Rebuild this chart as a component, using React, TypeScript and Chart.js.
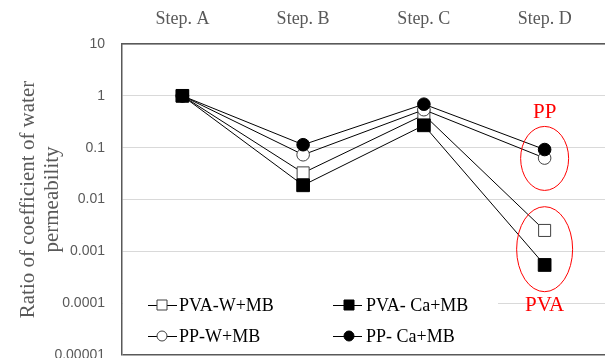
import React, { useEffect, useRef } from "react";
import { Chart, registerables } from "chart.js";

Chart.register(...registerables);

const categories = ["Step. A", "Step. B", "Step. C", "Step. D"];
const pvaW = [1, 0.0326, 0.43, 0.00253];
const pvaCa = [1, 0.0188, 0.27, 0.000546];
const ppW = [1, 0.073, 0.54, 0.063];
const ppCa = [1, 0.114, 0.69, 0.092];
const yTickValues = [0.00001, 0.0001, 0.001, 0.01, 0.1, 1, 10];
const yTickLabels = ["0.00001", "0.0001", "0.001", "0.01", "0.1", "1", "10"];
const yTitleLines = ["Ratio of coefficient of water", "permeability"];
const seriesLabels = ["PVA-W+MB", "PVA- Ca+MB", "PP-W+MB", "PP- Ca+MB"];
const groupLabels = ["PP", "PVA"];
// ellipse centre values at Step. D (data space)
const groupCenters = [0.062, 0.0011];

const SERIF = "'Liberation Serif', 'Times New Roman', serif";
const SANS = "'Liberation Sans', Arial, sans-serif";
const GRAY = "#595959";

const overlayPlugin = {
  id: "overlay",
  afterDatasetsDraw(chart: any) {
    const ctx = chart.ctx;
    const xs = chart.scales.x;
    const ys = chart.scales.y;
    const area = chart.chartArea;
    ctx.save();

    // legend box
    ctx.fillStyle = "#ffffff";
    ctx.fillRect(area.left + 1, 282, 497 - area.left, area.bottom - 283);
    const cols = [{ lx: 148, mx: 162, tx: 179 }, { lx: 333, mx: 349, tx: 366 }];
    const rows = [305, 336];
    const ds = chart.data.datasets;
    ds.forEach((d: any, i: number) => {
      const c = cols[i % 2];
      const y = rows[Math.floor(i / 2)];
      ctx.strokeStyle = "#000";
      ctx.lineWidth = 1;
      ctx.beginPath();
      ctx.moveTo(c.lx, y + 0.5);
      ctx.lineTo(c.lx + 29, y + 0.5);
      ctx.stroke();
      ctx.fillStyle = d.pointBackgroundColor;
      ctx.strokeStyle = d.pointBorderColor;
      ctx.beginPath();
      if (d.pointStyle === "rect") {
        ctx.rect(c.mx - 5, y - 5, 10, 10);
      } else {
        ctx.arc(c.mx, y, 5, 0, Math.PI * 2);
      }
      ctx.fill();
      ctx.stroke();
      ctx.fillStyle = "#000";
      ctx.font = `18px ${SERIF}`;
      ctx.textAlign = "left";
      ctx.textBaseline = "middle";
      ctx.fillText(d.label, c.tx, y + 1);
    });

    // red ellipses and labels at Step. D
    const xD = xs.getPixelForValue(3);
    const ell = [
      { rx: 24, ry: 32 },
      { rx: 28, ry: 42.5 },
    ];
    ctx.strokeStyle = "#ff0000";
    ctx.lineWidth = 1;
    groupCenters.forEach((v, i) => {
      const cy = ys.getPixelForValue(v);
      ctx.beginPath();
      ctx.ellipse(xD, cy, ell[i].rx, ell[i].ry, 0, 0, Math.PI * 2);
      ctx.stroke();
    });
    ctx.fillStyle = "#ff0000";
    ctx.font = `21px ${SERIF}`;
    ctx.textAlign = "center";
    ctx.textBaseline = "middle";
    ctx.fillText(groupLabels[0], xD, 112);
    ctx.fillText(groupLabels[1], xD, 305);

    // y title
    ctx.fillStyle = GRAY;
    ctx.font = `21px ${SERIF}`;
    const cy = (area.top + area.bottom) / 2;
    [28, 52].forEach((x, i) => {
      ctx.save();
      ctx.translate(x, cy);
      ctx.rotate(-Math.PI / 2);
      ctx.textAlign = "center";
      ctx.textBaseline = "middle";
      ctx.fillText(yTitleLines[i], 0, 0);
      ctx.restore();
    });
    ctx.restore();
  },
};

export default function App() {
  const ref = useRef<HTMLCanvasElement>(null);
  useEffect(() => {
    const canvas = ref.current!;
    const chart = new Chart(canvas, {
      type: "line",
      data: {
        labels: categories,
        datasets: [
          {
            label: seriesLabels[0],
            data: pvaW,
            borderColor: "#000",
            borderWidth: 1,
            pointStyle: "rect",
            pointRadius: 8.5,
            pointBackgroundColor: "#ffffff",
            pointBorderColor: "#404040",
            pointBorderWidth: 1,
            tension: 0,
            order: 3,
          },
          {
            label: seriesLabels[1],
            data: pvaCa,
            borderColor: "#000",
            borderWidth: 1,
            pointStyle: "rect",
            pointRadius: 9,
            pointBackgroundColor: "#000000",
            pointBorderColor: "#000000",
            pointBorderWidth: 1,
            tension: 0,
            order: 0,
          },
          {
            label: seriesLabels[2],
            data: ppW,
            borderColor: "#000",
            borderWidth: 1,
            pointStyle: "circle",
            pointRadius: 6.3,
            pointBackgroundColor: "#ffffff",
            pointBorderColor: "#404040",
            pointBorderWidth: 1,
            tension: 0,
            order: 2,
          },
          {
            label: seriesLabels[3],
            data: ppCa,
            borderColor: "#000",
            borderWidth: 1,
            pointStyle: "circle",
            pointRadius: 6.3,
            pointBackgroundColor: "#000000",
            pointBorderColor: "#000000",
            pointBorderWidth: 1,
            tension: 0,
            order: 1,
          },
        ],
      },
      options: {
        animation: false,
        responsive: false,
        layout: { autoPadding: false, padding: { left: 0, right: 0, top: 0, bottom: 3 } },
        plugins: {
          legend: { display: false },
          tooltip: { enabled: false },
        },
        scales: {
          x: {
            position: "top",
            offset: true,
            grid: { display: false, drawTicks: false },
            border: { display: true, color: GRAY, width: 1.5 },
            ticks: {
              color: GRAY,
              font: { family: SERIF, size: 18 },
              padding: 14,
              maxRotation: 0,
            },
            afterFit: (s: any) => {
              s.height = 44;
              s.paddingLeft = 0;
              s.paddingRight = 0;
              s.paddingTop = 0;
              s.paddingBottom = 0;
            },
          },
          y: {
            type: "logarithmic",
            min: yTickValues[0],
            max: yTickValues[yTickValues.length - 1],
            grid: {
              drawTicks: false,
              color: (c: any) =>
                c.tick && c.tick.value === yTickValues[0] ? GRAY : "#d9d9d9",
              lineWidth: (c: any) =>
                c.tick && c.tick.value === yTickValues[0] ? 1.5 : 1,
            },
            border: { display: true, color: GRAY, width: 1.5 },
            ticks: {
              color: GRAY,
              font: { family: SANS, size: 14 },
              padding: 17,
              callback: (v: any) => {
                const i = yTickValues.findIndex(
                  (t) => Math.abs(Math.log10(t) - Math.log10(Number(v))) < 1e-6
                );
                return i >= 0 ? yTickLabels[i] : "";
              },
            },
            afterBuildTicks: (s: any) => {
              s.ticks = yTickValues.map((v) => ({ value: v }));
            },
            afterFit: (s: any) => {
              s.width = 122;
              s.paddingLeft = 0;
              s.paddingRight = 0;
              s.paddingTop = 0;
              s.paddingBottom = 0;
            },
          },
        },
      },
      plugins: [overlayPlugin],
    });
    return () => chart.destroy();
  }, []);

  return (
    <div style={{ position: "absolute", left: 0, top: 0, width: 605, height: 358, background: "#fff" }}>
      <canvas ref={ref} width={605} height={358} />
    </div>
  );
}
